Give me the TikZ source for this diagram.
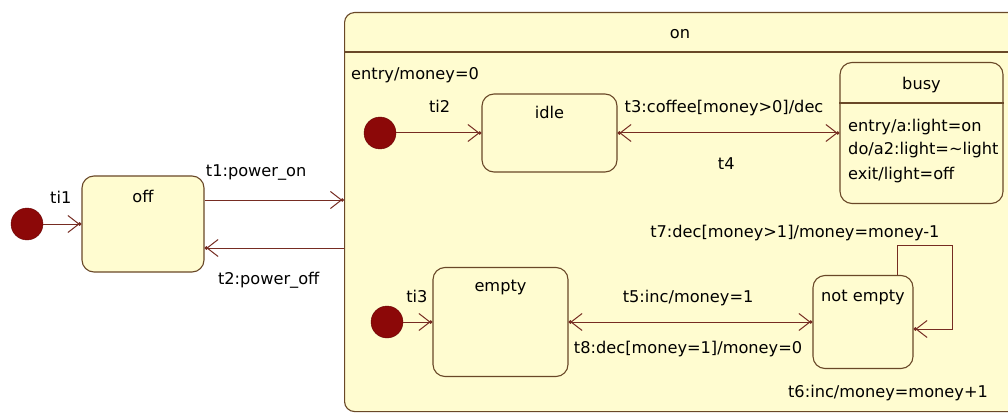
\documentclass[tikz,border=0pt]{standalone}
\usepackage{fontspec}
\setmainfont{DejaVu Sans}
\usetikzlibrary{arrows.meta}
\definecolor{statefill}{RGB}{255,252,208}
\definecolor{stateline}{RGB}{105,72,40}
\definecolor{transline}{RGB}{118,44,34}
\definecolor{initfill}{RGB}{140,8,8}
\tikzset{
  state/.style={draw=stateline, fill=statefill, line width=1.1pt, rounded corners=12pt, inner sep=0pt},
  init/.style={circle, fill=initfill, draw=initfill!75!black, minimum size=32pt, inner sep=0pt},
  trans/.style={transline, line width=1pt, -{Straight Barb[length=11pt,width=17pt,sep=-1.75pt]Circle[length=3.5pt]}},
  lbl/.style={font=\fontsize{16.2}{19}\selectfont, inner sep=0pt, anchor=base, text=black},
}

\begin{document}
\begin{tikzpicture}[x=1pt,y=-1pt]
  \useasboundingbox (0,0) rectangle (1008,414);
  \clip (0,0) rectangle (1008,414);
  \fill[white] (0,0) rectangle (1008,414);
  % composite state on
  \node[state, rounded corners=10pt, anchor=north west, minimum width=720pt, minimum height=399pt] (on) at (344,12) {};
  \draw[stateline, line width=1.1pt] (on.west |- 0,52) -- (on.east |- 0,52);
  \node[lbl] (onname) at (680,39) {on};
  \node[lbl, anchor=base west] (onentry) at (351,80) {entry/money=0};
  % simple states
  \node[state, minimum width=122pt, minimum height=96pt, label={[lbl,yshift=-27pt]north:off}] (off) at (143,224) {};
  \node[state, minimum width=135pt, minimum height=78pt, label={[lbl,yshift=-25pt]north:idle}] (idle) at (549.5,133) {};
  \node[state, minimum width=163pt, minimum height=141pt, label={[lbl,yshift=-28pt]north:busy}] (busy) at (921.5,133) {};
  \draw[stateline, line width=1.1pt] (busy.west |- 0,103) -- (busy.east |- 0,103);
  \node[lbl, anchor=base west] (busyentry) at (848,132) {entry/a:light=on};
  \node[lbl, anchor=base west] (busydo) at (848,155) {do/a2:light=\textasciitilde light};
  \node[lbl, anchor=base west] (busyexit) at (848,179) {exit/light=off};
  \node[state, minimum width=135pt, minimum height=109pt, label={[lbl,yshift=-25pt]north:empty}] (empty) at (500.5,322) {};
  \node[state, minimum width=100pt, minimum height=93pt, label={[lbl,yshift=-27pt]north:not empty}] (notempty) at (863,322) {};
  % initial pseudo states
  \node[init] (init1) at (27,224) {};
  \node[init] (init2) at (380,133) {};
  \node[init] (init3) at (387,322) {};
  % transitions
  \path[trans]
  (init1) edge node[lbl, pos=.46, yshift=21pt] {ti1} (off)
  ([yshift=24pt]off.east) edge node[lbl, pos=.37, yshift=23pt] {t1:power\_on} ([yshift=24pt]off.east -| on.west)
  ([yshift=-24pt]off.east -| on.west) edge node[lbl, pos=.54, yshift=-36pt] {t2:power\_off} ([yshift=-24pt]off.east)
  (init2) edge node[lbl, pos=.51, yshift=20pt] {ti2} (idle)
  (idle) edge node[lbl, pos=.48, yshift=20pt] {t3:coffee[money>0]/dec} (busy)
  (busy) edge node[lbl, pos=.51, yshift=-37pt] {t4} (idle)
  (init3) edge node[lbl, pos=.47, yshift=20pt] {ti3} (empty)
  (empty) edge node[lbl, pos=.49, yshift=20pt] {t5:inc/money=1} (notempty)
  (notempty) edge node[lbl, pos=.51, yshift=-31pt] {t8:dec[money=1]/money=0} (empty)
  ;
  \coordinate (loopcorner) at (952,245);
  \draw[trans] ([xshift=34pt]notempty.north) |- node[lbl, pos=.5, anchor=base east, xshift=43pt, yshift=8pt] {t7:dec[money>1]/money=money-1} (loopcorner) |- ([yshift=-7pt]notempty.east);
  \node[lbl] (t6) at ([xshift=25pt, yshift=-28.5pt]notempty.south) {t6:inc/money=money+1};
\end{tikzpicture}
\end{document}
